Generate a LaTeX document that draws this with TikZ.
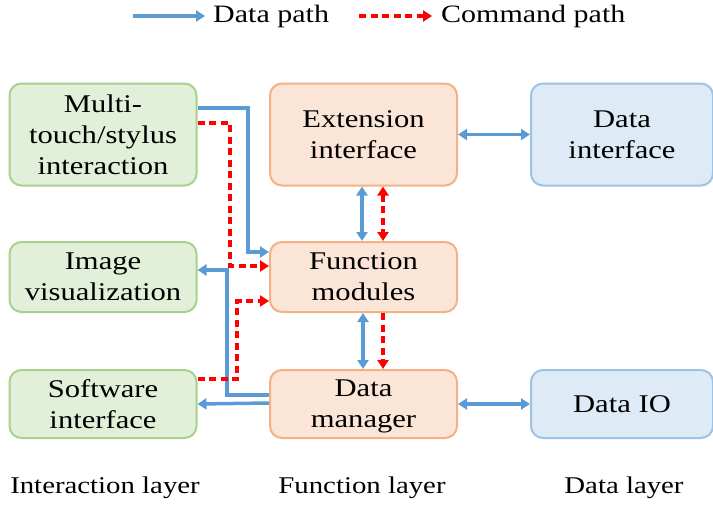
\documentclass[tikz,border=0pt]{standalone}
\usepackage{fontspec}
\setmainfont[FakeStretch=1.2]{Liberation Serif}
\usetikzlibrary{arrows.meta}
\definecolor{gfill}{HTML}{E2F0D9}
\definecolor{gdraw}{HTML}{A9D18E}
\definecolor{ofill}{HTML}{FBE5D6}
\definecolor{odraw}{HTML}{F4B183}
\definecolor{bfill}{HTML}{DEEBF7}
\definecolor{bdraw}{HTML}{9DC3E6}
\definecolor{dblue}{HTML}{5B9BD5}
\definecolor{cred}{HTML}{FF0000}
\begin{document}
\begin{tikzpicture}[x=1pt,y=-1pt,
  box/.style={rounded corners=12pt, line width=2pt, minimum width=187pt, align=center,
     font=\fontsize{25.5pt}{31pt}\selectfont, inner sep=0pt, text depth=0pt},
  gbox/.style={box, fill=gfill, draw=gdraw},
  obox/.style={box, fill=ofill, draw=odraw},
  bbox/.style={box, fill=bfill, draw=bdraw, minimum width=182pt},
  tip/.tip={Triangle[length=9pt,width=11pt]},
  dpath/.style={draw=dblue, line width=3.5pt, -tip},
  dpath2/.style={draw=dblue, line width=3.5pt, tip-tip},
  cpath/.style={draw=cred, line width=3.5pt, dash pattern=on 7pt off 4.5pt, -tip},
  cpath2/.style={draw=cred, line width=3.5pt, dash pattern=on 7pt off 4.5pt, tip-tip},
  lbl/.style={font=\fontsize{24pt}{30pt}\selectfont, inner sep=0pt},
  leg/.style={font=\fontsize{25pt}{30pt}\selectfont, inner sep=0pt}
]
\useasboundingbox (0,0) rectangle (713,506);

% boxes
\node[gbox, minimum height=102pt] (multi) at (103,134.5) {Multi-\\touch/stylus\\interaction};
\node[gbox, minimum height=70pt] (img) at (103,277) {Image\\visualization};
\node[gbox, minimum height=68pt] (soft) at (103,404) {Software\\interface};
\node[obox, minimum height=102pt] (ext) at (363.5,134.5) {Extension\\interface};
\node[obox, minimum height=70pt] (func) at (363.5,277) {Function\\modules};
\node[obox, minimum height=68pt] (dm) at (363.5,404) {Data\\manager};
\node[bbox, minimum height=102pt] (dint) at (622,134.5) {Data\\interface};
\node[bbox, minimum height=68pt] (dio) at (622,404) {Data IO};

% legend
\coordinate (l1a) at (133,16);
\coordinate (l1b) at (205,16);
\coordinate (l2a) at (359,16);
\coordinate (l2b) at (432,16);
\draw[dpath] (l1a) -- (l1b);
\node[leg, anchor=west] (lt1) at (213,16) {Data path};
\draw[cpath] (l2a) -- (l2b);
\node[leg, anchor=west] (lt2) at (441,16) {Command path};

% left connectors
\draw[dpath] (multi.east |- 0,108) -| (248,252) -- (func.west |- 0,252);
\draw[cpath] (multi.east |- 0,123) -| (230,266) -- (func.west |- 0,266);
\draw[dpath] (dm.west |- 0,395) -| (227,270) -- (img.east |- 0,270);
\draw[dpath] (dm.west |- 0,403) -- (soft.east |- 0,404);
\draw[cpath] (soft.east |- 0,379) -| (237,301) -- (func.west |- 0,301);

% vertical connectors
\draw[dpath2] (ext.south -| 362,0) -- (func.north -| 362,0);
\draw[cpath2] (ext.south -| 383,0) -- (func.north -| 383,0);
\draw[dpath2] (func.south -| 363,0) -- (dm.north -| 363,0);
\draw[cpath] (func.south -| 383,0) -- (dm.north -| 383,0);

% right connectors
\draw[dpath2] (ext.east) -- (dint.west);
\draw[dpath2] (dm.east) -- (dio.west);

% layer labels
\node[lbl] (la1) at (105,488) {Interaction layer};
\node[lbl] (la2) at (362,488) {Function layer};
\node[lbl] (la3) at (624,488) {Data layer};
\end{tikzpicture}
\end{document}
